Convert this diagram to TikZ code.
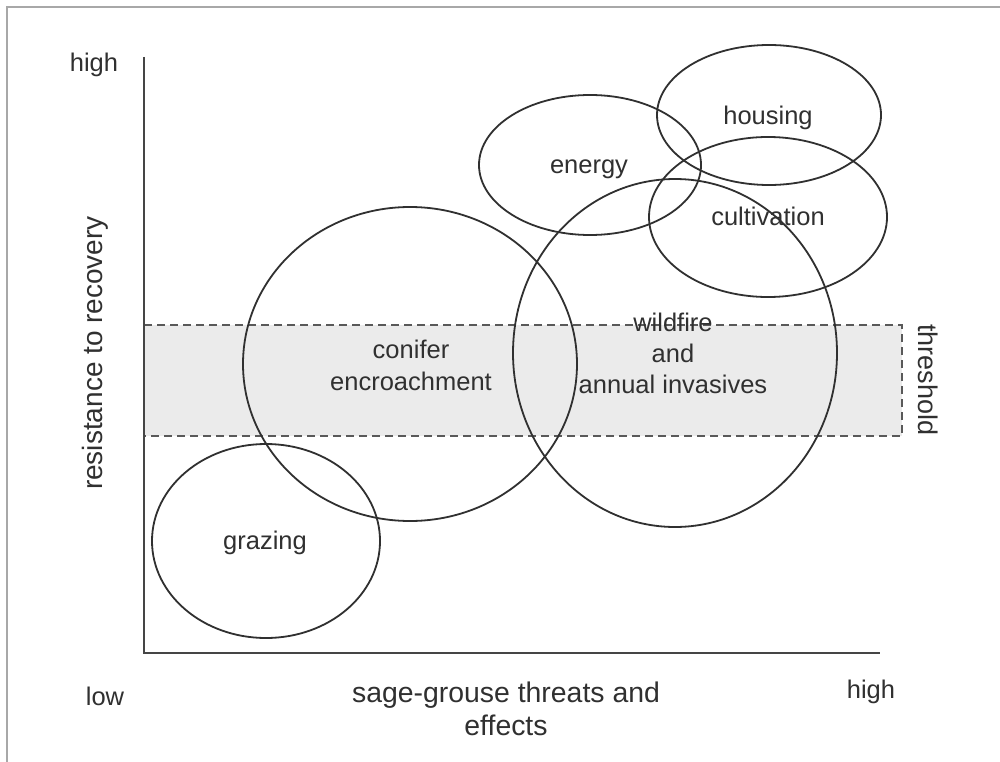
\documentclass[tikz,border=0pt]{standalone}
\usepackage{fontspec}
\setmainfont{Liberation Sans}
\definecolor{ink}{HTML}{303030}
\definecolor{band}{HTML}{EBEBEB}
\definecolor{frame}{HTML}{A8A8A8}
\begin{document}
\begin{tikzpicture}[x=1pt,y=-1pt,
  lbl/.style={text=ink,font=\fontsize{25.5}{31}\selectfont,align=center,inner sep=0pt,anchor=base},
  axlbl/.style={text=ink,font=\fontsize{28.4}{33}\selectfont,align=center,inner sep=0pt,anchor=base},
  blob/.style={draw=ink,line width=1.8pt},
  axisline/.style={draw=ink!90,line width=2.5pt},
  thrline/.style={draw=ink!80,line width=1.4pt,dash pattern=on 8pt off 5pt}]
\useasboundingbox (0,0) rectangle (1000,762);
\fill[white] (0,0) rectangle (1000,762);
% frame
\draw[frame,line width=1.5pt] (7,762) -- (7,7) -- (1000,7);
% threshold band
\fill[band] (144,325) rectangle (902,436);
\draw[thrline] (144,325) -- (902,325) -- (902,436) -- (144,436);
% ellipses
\coordinate (cg) at (266,541);
\coordinate (cc) at (410,364);
\coordinate (cw) at (675,353);
\coordinate (ce) at (590,165);
\coordinate (ch) at (769,115);
\coordinate (cu) at (768,217);
\draw[blob] (cg) ellipse [x radius=114, y radius=97];
\draw[blob] (cc) ellipse [x radius=167, y radius=157];
\draw[blob] (cw) ellipse [x radius=162, y radius=174];
\draw[blob] (ce) ellipse [x radius=111, y radius=70];
\draw[blob] (ch) ellipse [x radius=112, y radius=70];
\draw[blob] (cu) ellipse [x radius=119, y radius=80];
% axes
\coordinate (top) at (144,57);
\coordinate (org) at (144,653);
\coordinate (right) at (880,653);
\draw[axisline] (top) -- (org) -- (right);
% labels
\node[lbl] (tg) at (265,549) {grazing};
\node[lbl,font=\fontsize{25.5}{32}\selectfont] (tc) at (411,390) {conifer\\encroachment};
\node[lbl] (tw) at (673,393) {wildfire\\and\\annual invasives};
\node[lbl] (te) at (589,173) {energy};
\node[lbl] (th) at (768,125) {housing};
\node[lbl] (tu) at (768,225) {cultivation};
\node[lbl] (hy) at (94,72) {high};
\node[lbl] (lo) at (105,705) {low};
\node[lbl] (hx) at (871,698) {high};
\node[axlbl] (xl) at (506,735) {sage-grouse threats and\\effects};
\node[axlbl,rotate=90,font=\fontsize{28}{33}\selectfont] (yl) at (102,353) {resistance to recovery};
\node[lbl,rotate=-90,font=\fontsize{27}{32}\selectfont] (thr) at (918,380) {threshold};
\end{tikzpicture}
\end{document}
